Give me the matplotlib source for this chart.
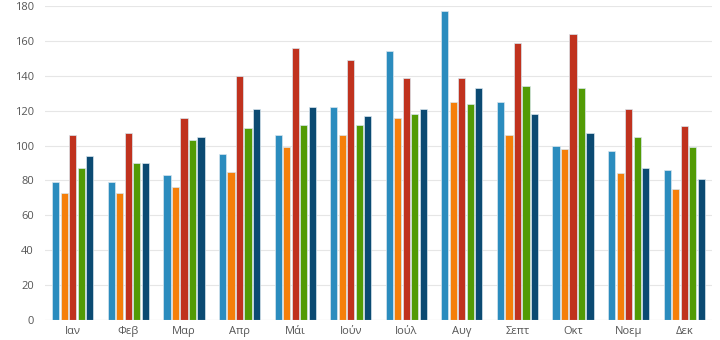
import matplotlib
matplotlib.use("Agg")
import matplotlib.pyplot as plt
import numpy as np

plt.rcParams['font.family'] = ['Open Sans', 'DejaVu Sans']

months = ["Ιαν", "Φεβ", "Μαρ", "Απρ", "Μάι", "Ιούν", "Ιούλ", "Αυγ", "Σεπτ", "Οκτ", "Νοεμ", "Δεκ"]
s1 = [79, 79, 83, 95, 106, 122, 154, 177, 125, 100, 97, 86]
s2 = [73, 73, 76, 85, 99, 106, 116, 125, 106, 98, 84, 75]
s3 = [106, 107, 116, 140, 156, 149, 139, 139, 159, 164, 121, 111]
s4 = [87, 90, 103, 110, 112, 112, 118, 124, 134, 133, 105, 99]
s5 = [94, 90, 105, 121, 122, 117, 121, 133, 118, 107, 87, 81]
series = [s1, s2, s3, s4, s5]
colors = ["#2b8cbe", "#f57f0a", "#c0321e", "#529b05", "#0b4a72"]
yticks = [0, 20, 40, 60, 80, 100, 120, 140, 160, 180]

fig = plt.figure(figsize=(7.2, 3.4), dpi=100)
ax = fig.add_axes([45/720, 20/340, 667/720, 314/340])

x = np.arange(len(months))
slot = 0.153
w = 0.128
for i, (vals, c) in enumerate(zip(series, colors)):
    ax.bar(x + (i - 2) * slot, vals, width=w, color=c, edgecolor="#d8e6ee",
           linewidth=0.5, zorder=3)

ax.set_xlim(-0.5, 11.5)
ax.set_ylim(0, 180)
ax.set_yticks(yticks)
ax.set_xticks(x)
ax.set_xticklabels(months)
ax.grid(axis='y', color="#e6e6e6", linewidth=0.8, zorder=0)
for s in ax.spines.values():
    s.set_visible(False)
ax.axhline(0, color="#dddddd", linewidth=0.8, zorder=4)
ax.tick_params(axis='both', length=0, labelsize=8, colors="#555555")
ax.tick_params(axis='y', pad=8)
ax.tick_params(axis='x', pad=4)

fig.savefig("out.png", dpi=100)
